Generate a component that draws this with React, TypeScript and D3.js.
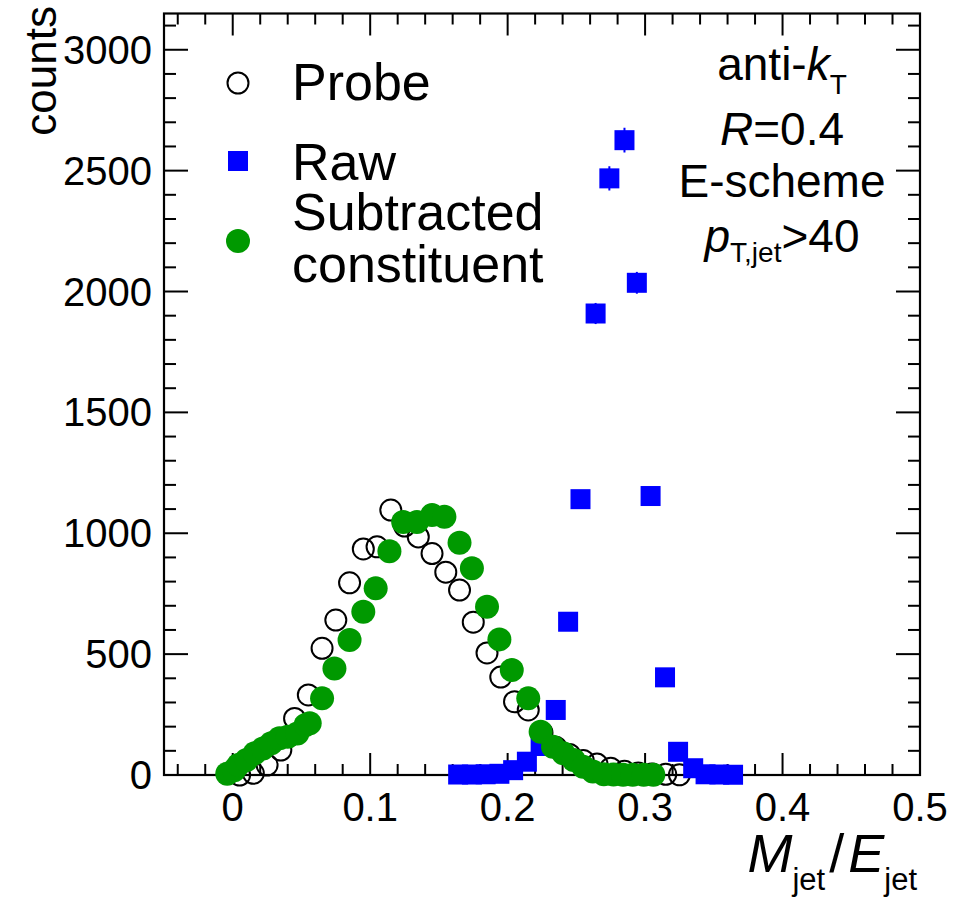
import React from "react";
import * as d3 from "d3";

const probeX = [0.005, 0.015, 0.025, 0.035, 0.045, 0.055, 0.065, 0.075, 0.085, 0.095, 0.105, 0.115, 0.125, 0.135, 0.145, 0.155, 0.165, 0.175, 0.185, 0.195, 0.205, 0.215, 0.225, 0.235, 0.245, 0.255, 0.265, 0.275, 0.285, 0.295, 0.305, 0.315, 0.325];
const probeY = [0, 7, 41, 103, 234, 331, 524, 641, 795, 935, 944, 1096, 1030, 985, 916, 839, 765, 632, 505, 405, 303, 269, 175, 115, 85, 60, 45, 28, 15, 8, 4, 3, 1];

const rawX = [0.164, 0.174, 0.184, 0.194, 0.204, 0.214, 0.224, 0.235, 0.244, 0.253, 0.264, 0.274, 0.285, 0.294, 0.304, 0.3145, 0.324, 0.335, 0.344, 0.354, 0.364];
const rawY = [2, 2, 3, 5, 20, 55, 120, 269, 634, 1141, 1909, 2468, 2626, 2036, 1154, 404, 96, 28, 3, 2, 1];

const subX = [-0.004, 0.001, 0.004, 0.010, 0.016, 0.022, 0.028, 0.034, 0.040, 0.047, 0.053, 0.056, 0.065, 0.074, 0.085, 0.095, 0.104, 0.114, 0.124, 0.134, 0.145, 0.154, 0.165, 0.174, 0.185, 0.194, 0.203, 0.215, 0.224, 0.233, 0.2405, 0.248, 0.255, 0.262, 0.270, 0.277, 0.284, 0.291, 0.299, 0.306];
const subY = [5, 20, 41, 62, 90, 110, 131, 152, 158, 172, 207, 214, 317, 441, 558, 675, 772, 926, 1047, 1047, 1075, 1068, 961, 855, 696, 561, 434, 317, 179, 117, 90, 62, 34, 14, 3, 2, 1, 1, 1, 1];

const xMajorTicks = [0, 0.1, 0.2, 0.3, 0.4, 0.5];
const xTickLabels = ["0", "0.1", "0.2", "0.3", "0.4", "0.5"];
const yMajorTicks = [0, 500, 1000, 1500, 2000, 2500, 3000];
const yTickLabels = ["0", "500", "1000", "1500", "2000", "2500", "3000"];

const legendLabels = ["Probe", "Raw", "Subtracted", "constituent"];

const FONT = "'Liberation Sans', Arial, Helvetica, sans-serif";
const GREEN = "#009900";
const BLUE = "#0000ff";

export default function App() {
  const W = 955, H = 898;
  const L = 164, R = 920, T = 13.5, B = 775;
  const x = d3.scaleLinear().domain([-0.05, 0.5]).range([L, R]);
  const y = d3.scaleLinear().domain([0, 3150]).range([B, T]);

  const xMinor = d3.range(-0.04, 0.5001, 0.02).filter((v) => !xMajorTicks.some((m) => Math.abs(m - v) < 1e-6));
  const yMinor = d3.range(0, 3150, 100).filter((v) => v % 500 !== 0);

  const xMajLen = 22, xMinLen = 11, yMajLen = 24, yMinLen = 12;
  const probe = probeX.map((v, i) => ({ x: v, y: probeY[i] }));
  const raw = rawX.map((v, i) => ({ x: v, y: rawY[i] }));
  const sub = subX.map((v, i) => ({ x: v, y: subY[i] }));

  return (
    <svg width={W} height={H} style={{ position: "absolute", left: 0, top: 0, background: "#fff" }} fontFamily={FONT}>
      <rect x={0} y={0} width={W} height={H} fill="#fff" />
      {/* ticks */}
      <g stroke="#000" strokeWidth={2}>
        {xMajorTicks.map((v) => (
          <g key={"xm" + v}>
            <line x1={x(v)} x2={x(v)} y1={B} y2={B - xMajLen} />
            <line x1={x(v)} x2={x(v)} y1={T} y2={T + xMajLen} />
          </g>
        ))}
        {xMinor.map((v) => (
          <g key={"xn" + v}>
            <line x1={x(v)} x2={x(v)} y1={B} y2={B - xMinLen} />
            <line x1={x(v)} x2={x(v)} y1={T} y2={T + xMinLen} />
          </g>
        ))}
        {yMajorTicks.map((v) => (
          <g key={"ym" + v}>
            <line x1={L} x2={L + yMajLen} y1={y(v)} y2={y(v)} />
            <line x1={R} x2={R - yMajLen} y1={y(v)} y2={y(v)} />
          </g>
        ))}
        {yMinor.map((v) => (
          <g key={"yn" + v}>
            <line x1={L} x2={L + yMinLen} y1={y(v)} y2={y(v)} />
            <line x1={R} x2={R - yMinLen} y1={y(v)} y2={y(v)} />
          </g>
        ))}
      </g>
      <rect x={L} y={T} width={R - L} height={B - T} fill="none" stroke="#000" strokeWidth={2.2} />

      {/* tick labels */}
      {xMajorTicks.map((v, i) => (
        <text key={"xl" + v} x={x(v)} y={821} fontSize={40} textAnchor="middle" fill="#000">
          {xTickLabels[i]}
        </text>
      ))}
      {yMajorTicks.map((v, i) => (
        <text key={"yl" + v} x={152} y={y(v) + 14} fontSize={40} textAnchor="end" fill="#000">
          {yTickLabels[i]}
        </text>
      ))}

      {/* axis titles */}
      <text x={917} y={872} fontSize={54} textAnchor="end" fill="#000">
        <tspan fontStyle="italic">M</tspan>
        <tspan fontSize={31} dy={18}>jet</tspan>
        <tspan dy={-18} dx={4}>/</tspan>
        <tspan fontStyle="italic" dx={4}>E</tspan>
        <tspan fontSize={31} dy={18}>jet</tspan>
      </text>
      <text transform="translate(56,6) rotate(-90)" fontSize={44} textAnchor="end" fill="#000">counts</text>

      {/* data */}
      <g clipPath="url(#plotclip)">
        {probe.map((d, i) => (
          <circle key={"p" + i} cx={x(d.x)} cy={y(d.y)} r={10.5} fill="none" stroke="#000" strokeWidth={2} />
        ))}
        {raw.map((d, i) => (
          <g key={"r" + i}>
            <line x1={x(d.x)} x2={x(d.x)} y1={y(d.y + Math.sqrt(d.y))} y2={y(Math.max(0, d.y - Math.sqrt(d.y)))} stroke={BLUE} strokeWidth={2} />
            <rect x={x(d.x) - 10} y={y(d.y) - 10} width={20} height={20} fill={BLUE} />
          </g>
        ))}
        {sub.map((d, i) => (
          <circle key={"s" + i} cx={x(d.x)} cy={y(d.y)} r={12} fill={GREEN} />
        ))}
      </g>
      <defs>
        <clipPath id="plotclip">
          <rect x={L - 30} y={T} width={R - L + 30} height={B - T + 20} />
        </clipPath>
      </defs>

      {/* legend */}
      <circle cx={238} cy={83} r={10.5} fill="none" stroke="#000" strokeWidth={2} />
      <text x={292} y={100} fontSize={52} fill="#000">{legendLabels[0]}</text>
      <rect x={228} y={151} width={20} height={20} fill={BLUE} />
      <text x={292} y={180} fontSize={52} fill="#000">{legendLabels[1]}</text>
      <circle cx={238} cy={241} r={12} fill={GREEN} />
      <text x={292} y={230} fontSize={52} fill="#000">{legendLabels[2]}</text>
      <text x={292} y={282} fontSize={52} fill="#000">{legendLabels[3]}</text>

      {/* annotation */}
      <text x={782} y={80} fontSize={46} textAnchor="middle" fill="#000">
        <tspan>anti-</tspan>
        <tspan fontStyle="italic">k</tspan>
        <tspan fontSize={28} dy={14}>T</tspan>
      </text>
      <text x={782} y={145} fontSize={46} textAnchor="middle" fill="#000">
        <tspan fontStyle="italic">R</tspan>
        <tspan>=0.4</tspan>
      </text>
      <text x={782} y={197} fontSize={46} textAnchor="middle" fill="#000">E-scheme</text>
      <text x={782} y={252} fontSize={46} textAnchor="middle" fill="#000">
        <tspan fontStyle="italic">p</tspan>
        <tspan fontSize={28} dy={10}>T,jet</tspan>
        <tspan dy={-10}>&gt;40</tspan>
      </text>
    </svg>
  );
}
